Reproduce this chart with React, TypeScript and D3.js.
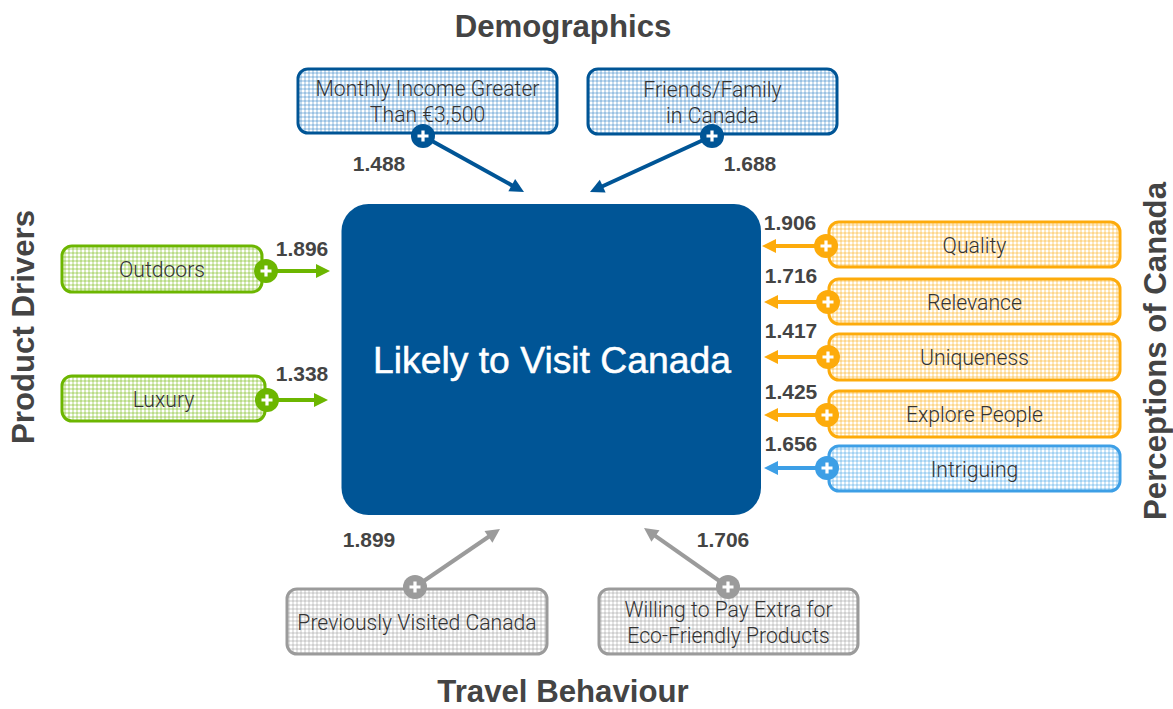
import React, { useRef, useEffect } from 'react';
import * as d3 from 'd3';

const WIDTH = 1173;
const HEIGHT = 709;

const centerLabel = 'Likely to Visit Canada';

const groupTitles = ['Demographics', 'Product Drivers', 'Perceptions of Canada', 'Travel Behaviour'];

const demographicNames = ['Monthly Income Greater|Than €3,500', 'Friends/Family|in Canada'];
const demographicValues = [1.488, 1.688];

const productNames = ['Outdoors', 'Luxury'];
const productValues = [1.896, 1.338];

const perceptionNames = ['Quality', 'Relevance', 'Uniqueness', 'Explore People', 'Intriguing'];
const perceptionValues = [1.906, 1.716, 1.417, 1.425, 1.656];

const travelNames = ['Previously Visited Canada', 'Willing to Pay Extra for|Eco-Friendly Products'];
const travelValues = [1.899, 1.706];

// layout tables, kept apart from the values: [x0, y0, x1, y1, circleX, circleY, tipX, tipY, labelX, labelY]
const layout = d3.scaleOrdinal<string, number[]>()
  .domain([...demographicNames, ...productNames, ...perceptionNames, ...travelNames])
  .range([
    [298, 69, 557, 133, 423, 136, 524, 192, 379, 171],
    [588, 69, 837, 134, 712, 136, 590, 192, 750, 171],
    [62, 246, 262, 292, 266, 271, 330, 271, 302, 256],
    [62, 376, 265, 421, 267, 400, 328, 400, 302, 381],
    [829, 222, 1120, 267, 826, 246, 762, 246, 790, 230],
    [829, 279, 1120, 324, 828, 302, 764, 302, 791, 283],
    [829, 334, 1120, 380, 828, 357, 764, 357, 791, 338],
    [829, 391, 1120, 437, 827, 415, 764, 415, 791, 399],
    [829, 446, 1120, 491, 827, 468, 764, 468, 791, 451],
    [287, 589, 547, 654, 415, 587, 500, 529, 369, 547],
    [599, 589, 858, 654, 728, 587, 644, 528, 723, 547],
  ]);

const GREEN = '#6cb600';
const ORANGE = '#fdab0b';
const SKY = '#3d9fe6';
const GREY = '#9b9b9b';
const NAVY = '#005596';
const TEXT = '#444444';

const colorOf = (name: string) => {
  if (demographicNames.includes(name)) return NAVY;
  if (productNames.includes(name)) return GREEN;
  if (travelNames.includes(name)) return GREY;
  return name === 'Intriguing' ? SKY : ORANGE;
};

const FONT = '"Liberation Sans", Arial, sans-serif';
const HEAD = 14;

const App = () => {
  const svgRef = useRef<SVGSVGElement>(null);

  useEffect(() => {
    const svg = d3.select(svgRef.current);
    svg.selectAll('*').remove();

    const nodes = [
      ...demographicNames.map((name, i) => ({ name, value: demographicValues[i] })),
      ...productNames.map((name, i) => ({ name, value: productValues[i] })),
      ...perceptionNames.map((name, i) => ({ name, value: perceptionValues[i] })),
      ...travelNames.map((name, i) => ({ name, value: travelValues[i] })),
    ];

    const defs = svg.append('defs');

    // gingham fill of the small boxes
    [NAVY, GREEN, ORANGE, SKY, GREY].forEach(color => {
      const weave = color === NAVY ? '#2a7fc4' : color;
      const p = defs.append('pattern')
        .attr('id', 'weave' + color.slice(1))
        .attr('width', 4)
        .attr('height', 4)
        .attr('patternUnits', 'userSpaceOnUse');
      p.append('rect').attr('width', 4).attr('height', 4).attr('fill', '#fff');
      p.append('rect').attr('width', 4).attr('height', 2).attr('fill', weave).attr('opacity', 0.27);
      p.append('rect').attr('width', 2).attr('height', 4).attr('fill', weave).attr('opacity', 0.27);
    });

    // main box
    svg.append('rect')
      .attr('x', 341.5).attr('y', 204)
      .attr('width', 419.5).attr('height', 311)
      .attr('rx', 27)
      .attr('fill', NAVY);

    svg.append('text')
      .attr('x', 552).attr('y', 373)
      .attr('text-anchor', 'middle')
      .attr('font-size', 37.3)
      .attr('fill', '#fff')
      .attr('stroke', '#fff')
      .attr('stroke-width', 0.5)
      .text(centerLabel);

    const node = svg.selectAll('g.node')
      .data(nodes)
      .enter()
      .append('g')
      .attr('class', 'node');

    node.append('rect')
      .attr('x', d => layout(d.name)[0])
      .attr('y', d => layout(d.name)[1])
      .attr('width', d => layout(d.name)[2] - layout(d.name)[0])
      .attr('height', d => layout(d.name)[3] - layout(d.name)[1])
      .attr('rx', 10)
      .attr('fill', d => `url(#weave${colorOf(d.name).slice(1)})`)
      .attr('stroke', d => colorOf(d.name))
      .attr('stroke-width', 3);

    node.each(function (d) {
      const lines = d.name.split('|');
      const [x0, y0, x1, y1] = layout(d.name);
      const g = d3.select(this);
      lines.forEach((line, i) => {
        g.append('text')
          .attr('x', (x0 + x1) / 2)
          .attr('y', (y0 + y1) / 2 + 8 + (i - (lines.length - 1) / 2) * 26)
          .attr('text-anchor', 'middle')
          .attr('font-family', 'Roboto')
          .attr('font-weight', 300)
          .attr('font-size', 21.2)
          .attr('fill', '#333')
          .text(line);
      });
    });

    // arrow shaft stops short of the tip, the head is drawn on top of it
    const arrowAngle = (d: { name: string }) => {
      const l = layout(d.name);
      return Math.atan2(l[7] - l[5], l[6] - l[4]);
    };

    node.append('line')
      .attr('x1', d => layout(d.name)[4])
      .attr('y1', d => layout(d.name)[5])
      .attr('x2', d => layout(d.name)[6] - Math.cos(arrowAngle(d)) * (HEAD - 2))
      .attr('y2', d => layout(d.name)[7] - Math.sin(arrowAngle(d)) * (HEAD - 2))
      .attr('stroke', d => colorOf(d.name))
      .attr('stroke-width', 4);

    node.append('path')
      .attr('d', `M0,0L${-HEAD},${-HEAD / 2}L${-HEAD},${HEAD / 2}Z`)
      .attr('transform', d => {
        const l = layout(d.name);
        return `translate(${l[6]},${l[7]})rotate(${(arrowAngle(d) * 180) / Math.PI})`;
      })
      .attr('fill', d => colorOf(d.name));

    node.append('circle')
      .attr('cx', d => layout(d.name)[4])
      .attr('cy', d => layout(d.name)[5])
      .attr('r', 12)
      .attr('fill', d => colorOf(d.name));

    // plus sign
    node.append('path')
      .attr('d', d => {
        const cx = layout(d.name)[4];
        const cy = layout(d.name)[5];
        return d3.line()([[cx - 5.5, cy], [cx + 5.5, cy]]) + d3.line()([[cx, cy - 5.5], [cx, cy + 5.5]]);
      })
      .attr('stroke', '#fff')
      .attr('stroke-width', 3.2)
      .attr('fill', 'none');

    node.append('text')
      .attr('x', d => layout(d.name)[8])
      .attr('y', d => layout(d.name)[9])
      .attr('text-anchor', 'middle')
      .attr('font-size', 21)
      .attr('font-weight', 700)
      .attr('fill', TEXT)
      .text(d => d3.format('.3f')(d.value));

    // group titles
    const titleText = (label: string, x: number, y: number, rotate: number) =>
      svg.append('text')
        .attr('transform', `translate(${x},${y})rotate(${rotate})`)
        .attr('text-anchor', 'middle')
        .attr('font-size', 31.2)
        .attr('font-weight', 700)
        .attr('fill', TEXT)
        .text(label);

    titleText(groupTitles[0], 563, 37, 0);
    titleText(groupTitles[1], 34, 327, -90);
    titleText(groupTitles[2], 1166, 351, -90);
    titleText(groupTitles[3], 563, 702, 0);
  }, []);

  return (
    <svg
      ref={svgRef}
      width={WIDTH}
      height={HEIGHT}
      style={{ position: 'absolute', left: 0, top: 0, fontFamily: FONT, background: '#fff' }}
    />
  );
};

export default App;
